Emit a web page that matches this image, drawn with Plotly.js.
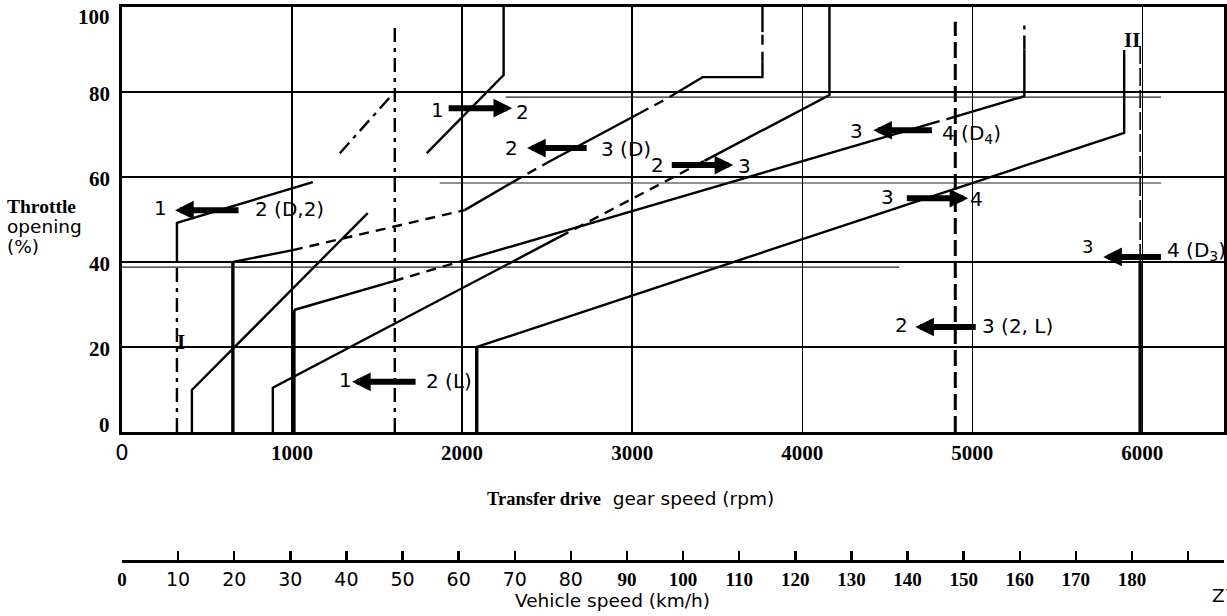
<!DOCTYPE html>
<html><head><meta charset="utf-8">
<script src="https://cdn.plot.ly/plotly-3.0.1.min.js"></script>
<style>body{margin:0;background:#fff}</style>
</head><body>
<div id="chart" style="width:1227px;height:616px"></div>
<script>
// ---------- axes ----------
const rpmTicks = [0, 1000, 2000, 3000, 4000, 5000, 6000];
const pctTicks = [0, 20, 40, 60, 80, 100];
const speedTicks = [0,10,20,30,40,50,60,70,80,90,100,110,120,130,140,150,160,170,180,190];
const speedLabels = ['0','10','20','30','40','50','60','70','80','90','100','110','120','130','140','150','160','170','180',''];

// ---------- shift lines (rpm, throttle %) ----------
const lineI_x = [323, 323, 323, 1122];
const lineI_y = [0, 40, 49.2, 58.8];
const lineB_x = [411, 411, 1445];
const lineB_y = [0, 9.9, 51.5];
const lineA_x = [652, 652, 1005, 2015, 2297, 2497, 3043, 3220, 3414, 3766, 3766, 3766, 3766];
const lineA_y = [0, 40, 42.8, 52.2, 58.8, 63.3, 75, 78.8, 83.5, 83.5, 87.1, 94.1, 100];
const lineE_x = [887, 887, 2573, 3425, 4160, 4160];
const lineE_y = [0, 10.4, 45.9, 63.8, 79.3, 100];
const lineD_x = [1011, 1011, 1598, 1986, 4751, 4851, 5306, 5306, 5306];
const lineD_y = [0, 28.7, 35.5, 40.1, 72.5, 73.6, 79, 90, 96.5];
const lineC_x = [1792, 2244, 2244];
const lineC_y = [65.6, 84, 100];
const lineC2_x = [1281, 1592];
const lineC2_y = [65.6, 79.5];
const vert1_x = [1604, 1604];
const vert1_y = [0, 95.3];
const vert2_x = [4900, 4900];
const vert2_y = [0, 96.5];
const lineF_x = [2086, 2086, 5893, 5893];
const lineF_y = [0, 20, 70.4, 89.9];
const lineG_x = [5987, 5987, 5987];
const lineG_y = [0, 40, 91.5];
// faint doubled rules of the original drawing
const rule80_x = [2256, 6110];  const rule80_y = [78.8, 78.8];
const rule60_x = [1868, 6110];  const rule60_y = [58.6, 58.6];
const rule40_x = [0, 4571];     const rule40_y = [38.8, 38.8];

// segment styles (one per segment)
const lineI_s = ['dd','s','s'];
const lineB_s = ['s','s'];
const lineA_s = ['S','s','d','s','d','s','d','s','s','s','d','s'];
const lineE_s = ['s','s','d','s','s'];
const lineD_s = ['S','s','d','s','d','s','s','dd'];
const lineC_s = ['s','s'];
const lineC2_s = ['dd'];
const vert1_s = ['dd'];
const vert2_s = ['ld'];
const lineF_s = ['S','s','s'];
const lineG_s = ['S','t'];

// ---------- arrows (rpm of head / tail, throttle %) ----------
const arrowHead = [312, 2294, 2382, 3594, 4418, 4976, 5770, 4665, 1353];
const arrowTail = [694, 1912, 2741, 3224, 4771, 4606, 6118, 5029, 1735];
const arrowPct  = [52.2, 76.2, 66.8, 62.8, 71.0, 55.0, 41.2, 24.7, 11.8];

const SANS = 'DejaVu Sans', SERIF = 'Liberation Serif';
const serifB = t => `<span style="font-family:${SERIF}"><b>${t}</b></span>`;
const sans = t => `<span style="font-family:${SANS};font-weight:normal">${t}</span>`;

const STY = {
  s:  {width: 2.4, dash: 'solid'},
  S:  {width: 3.4, dash: 'solid'},
  d:  {width: 2.4, dash: '10px,7px'},
  dd: {width: 2.4, dash: '14px,6px,4px,6px'},
  ld: {width: 3.0, dash: '16px,6px'},
  t:  {width: 1.6, dash: '18px,4px'}
};

const traces = [];
function addLine(xs, ys, styles) {
  let i = 0;
  while (i < styles.length) {
    let j = i;
    while (j + 1 < styles.length && styles[j + 1] === styles[i]) j++;
    const st = STY[styles[i]];
    traces.push({
      x: xs.slice(i, j + 2), y: ys.slice(i, j + 2),
      type: 'scatter', mode: 'lines', hoverinfo: 'skip', showlegend: false,
      line: {color: '#000', width: st.width, dash: st.dash, shape: 'linear'}
    });
    i = j + 1;
  }
}
addLine(lineI_x, lineI_y, lineI_s);
addLine(lineB_x, lineB_y, lineB_s);
addLine(lineA_x, lineA_y, lineA_s);
addLine(lineE_x, lineE_y, lineE_s);
addLine(lineD_x, lineD_y, lineD_s);
addLine(lineC_x, lineC_y, lineC_s);
addLine(lineC2_x, lineC2_y, lineC2_s);
addLine(vert1_x, vert1_y, vert1_s);
addLine(vert2_x, vert2_y, vert2_s);
addLine(lineF_x, lineF_y, lineF_s);
addLine(lineG_x, lineG_y, lineG_s);
[[rule80_x, rule80_y], [rule60_x, rule60_y], [rule40_x, rule40_y]].forEach(([xs, ys]) => {
  traces.push({x: xs, y: ys, type: 'scatter', mode: 'lines', hoverinfo: 'skip', showlegend: false,
    line: {color: '#222', width: 1.1}});
});
// carrier for the vehicle-speed axis
traces.push({x: [speedTicks[0]], y: [null], xaxis: 'x2', yaxis: 'y', type: 'scatter', mode: 'markers',
  showlegend: false, hoverinfo: 'skip'});

const annotations = [];
// arrows
for (let k = 0; k < arrowHead.length; k++) {
  annotations.push({
    x: arrowHead[k], y: arrowPct[k], ax: arrowTail[k], ay: arrowPct[k],
    xref: 'x', yref: 'y', axref: 'x', ayref: 'y',
    text: '', showarrow: true, arrowhead: 2, arrowwidth: 6, arrowsize: 0.62,
    arrowcolor: '#000', standoff: 0, startstandoff: 0, font: {size: 1}
  });
}
const lbl = (x, y, text, anchor, size) => ({
  x, y, xref: 'x', yref: 'y', text, showarrow: false, xanchor: anchor || 'center', yanchor: 'middle',
  font: {family: SANS, size: size || 20, color: '#000'}
});
annotations.push(
  lbl(229, 52.6, '1'), lbl(770, 52.4, '2 (D,2)', 'left'),
  lbl(1857, 75.8, '1'), lbl(2356, 75.4, '2'),
  lbl(2291, 66.8, '2'), lbl(2805, 66.6, '3 (D)', 'left'),
  lbl(3149, 62.8, '2'), lbl(3660, 62.6, '3'),
  lbl(4318, 70.8, '3'), lbl(4812, 70.2, '4 (D<sub>4</sub>)', 'left'),
  lbl(4500, 55.2, '3'), lbl(5023, 54.8, '4'),
  lbl(5676, 43.6, '3', 'center', 18), lbl(6135, 42.6, '4 (D<sub>3</sub>)', 'left'),
  lbl(4583, 25.2, '2'), lbl(5048, 24.9, '3 (2, L)', 'left'),
  lbl(1316, 12.2, '1'), lbl(1775, 12.0, '2 (L)', 'left')
);
// roman markers
annotations.push(
  {x: 347, y: 21.2, xref: 'x', yref: 'y', text: '<b>I</b>', showarrow: false,
   font: {family: SERIF, size: 21, color: '#000'}},
  {x: 5940, y: 92.3, xref: 'x', yref: 'y', text: '<b>II</b>', showarrow: false,
   font: {family: SERIF, size: 21, color: '#000'}}
);
// y tick labels (drawn inside the frame edge like the original)
pctTicks.forEach(v => {
  annotations.push({x: -0.0095, y: v, xref: 'paper', yref: 'y', xanchor: 'right', yanchor: 'middle',
    yshift: v === 100 ? -10 : (v === 0 ? 7 : -2), showarrow: false,
    text: '<b>' + v + '</b>', font: {family: SERIF, size: 21, color: '#000'}});
});
// axis titles
annotations.push(
  {x: 0.329, y: 0.112, xref: 'paper', yref: 'paper', xanchor: 'left', yanchor: 'middle', showarrow: false,
   text: serifB('Transfer drive') + '  gear speed (rpm)', font: {family: SANS, size: 18.5, color: '#000'}},
  {x: 0.355, y: -0.072, xref: 'paper', yref: 'paper', xanchor: 'left', yanchor: 'middle', showarrow: false,
   text: 'Vehicle speed (km/h)', font: {family: SANS, size: 18.5, color: '#000'}},
  {x: 0.987, y: -0.063, xref: 'paper', yref: 'paper', xanchor: 'left', yanchor: 'middle', showarrow: false,
   text: 'Z7', font: {family: SANS, size: 18.5, color: '#000'}},
  {x: -0.106, y: 0.640, xref: 'paper', yref: 'paper', xanchor: 'left', yanchor: 'middle', showarrow: false,
   text: '<b>Throttle</b>', font: {family: SERIF, size: 19.5, color: '#000'}},
  {x: -0.106, y: 0.603, xref: 'paper', yref: 'paper', xanchor: 'left', yanchor: 'middle', showarrow: false,
   text: 'opening', font: {family: SANS, size: 18.5, color: '#000'}},
  {x: -0.106, y: 0.567, xref: 'paper', yref: 'paper', xanchor: 'left', yanchor: 'middle', showarrow: false,
   text: '(%)', font: {family: SANS, size: 18.5, color: '#000'}}
);

const layout = {
  width: 1227, height: 616,
  margin: {l: 122, r: 3, t: 7, b: 55},
  paper_bgcolor: '#fff', plot_bgcolor: '#fff',
  showlegend: false,
  xaxis: {
    range: [0, 6480], domain: [0, 1], anchor: 'y',
    tickmode: 'array', tickvals: rpmTicks,
    ticktext: rpmTicks.map(v => v === 0 ? sans(v) : serifB(v)),
    tickfont: {family: SERIF, size: 21, color: '#000'},
    ticks: '', ticklabelstandoff: 0,
    showgrid: true, gridcolor: '#000', gridwidth: 1.4,
    showline: true, mirror: true, linecolor: '#000', linewidth: 3, zeroline: false
  },
  yaxis: {
    range: [0, 100], domain: [0.2329, 1],
    tickmode: 'array', tickvals: pctTicks, showticklabels: false, ticks: '',
    showgrid: true, gridcolor: '#000', gridwidth: 2,
    showline: true, mirror: true, linecolor: '#000', linewidth: 3, zeroline: false
  },
  xaxis2: {
    range: [0, 196.4], overlaying: 'x', anchor: 'free', position: 0, side: 'bottom',
    tickmode: 'array', tickvals: speedTicks,
    ticktext: speedLabels.map(t => (t === '0' || Number(t) >= 90) ? serifB(t) : t),
    tickfont: {family: SANS, size: 19, color: '#000'},
    ticks: 'inside', ticklen: 9, tickwidth: 2.5, tickcolor: '#000',
    showgrid: false, showline: true, linecolor: '#000', linewidth: 3, zeroline: false
  },
  annotations
};

Plotly.newPlot('chart', traces, layout, {staticPlot: true, displayModeBar: false});
</script>
</body></html>
